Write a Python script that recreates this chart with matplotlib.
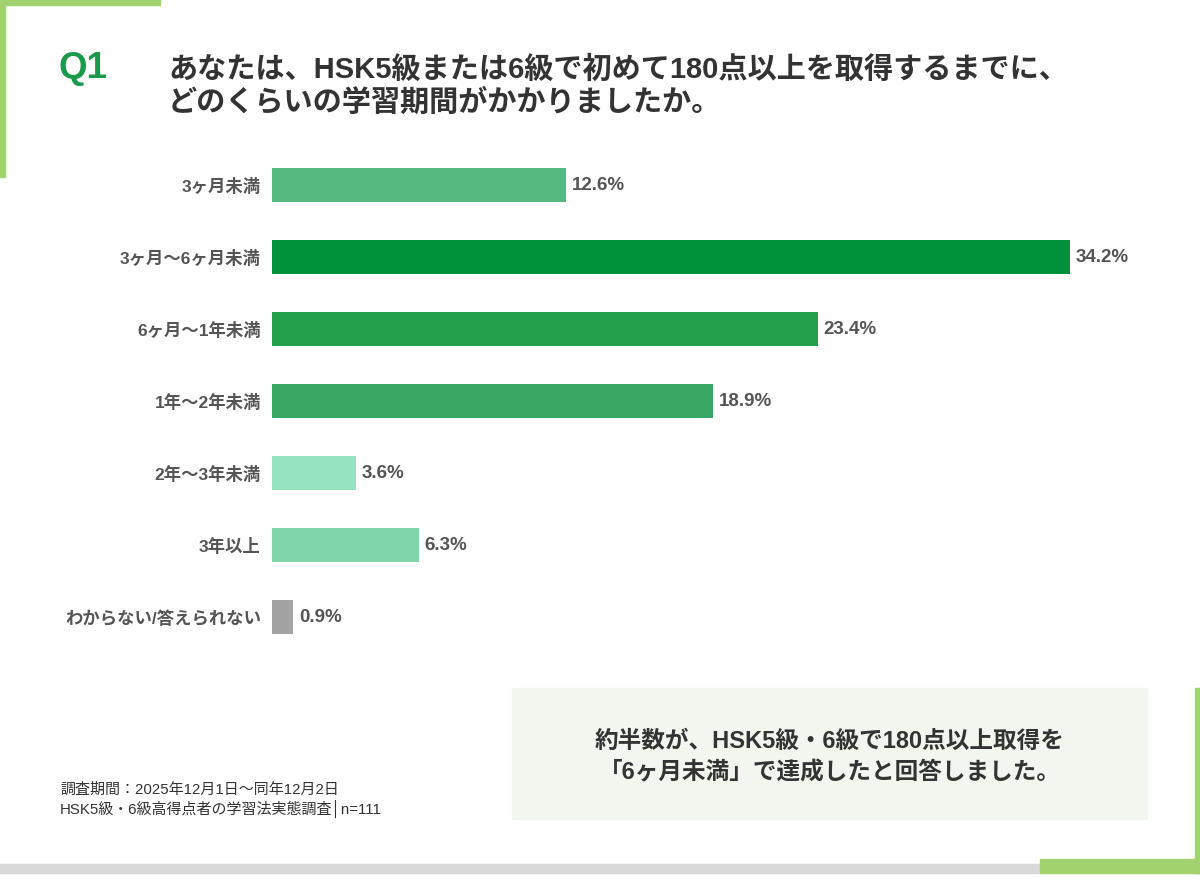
import matplotlib
matplotlib.use("Agg")
import matplotlib.pyplot as plt
from matplotlib.patches import Rectangle

# Latin glyphs in an Arial-like face, Japanese falls back to Noto CJK
plt.rcParams["font.family"] = ["Liberation Sans", "Noto Sans CJK JP", "DejaVu Sans"]

categories = ["3ヶ月未満", "3ヶ月～6ヶ月未満", "6ヶ月～1年未満", "1年～2年未満",
              "2年～3年未満", "3年以上", "わからない/答えられない"]
values = [12.6, 34.2, 23.4, 18.9, 3.6, 6.3, 0.9]
bar_colors = ["#55b980", "#00923a", "#23a04c", "#3aa864", "#96e3c1", "#80d5a9", "#a3a3a3"]

W, H = 1200, 884
fig = plt.figure(figsize=(W / 100, H / 100), dpi=100)
fig.patch.set_facecolor("white")


def px(x, y, w, h):
    # pixel box (top-left origin) -> figure fraction
    return [x / W, 1 - (y + h) / H, w / W, h / H]


# frame decorations
deco = fig.add_axes([0, 0, 1, 1])
deco.set_xlim(0, W)
deco.set_ylim(H, 0)
deco.axis("off")
green_line = "#a0d36e"
deco.add_patch(Rectangle((0, 0), 160, 5, color=green_line))
deco.add_patch(Rectangle((0, 0), 5, 177, color=green_line))
deco.add_patch(Rectangle((0, 864), 1200, 9, color="#d9d9d9"))
deco.add_patch(Rectangle((1040, 859), 160, 14, color=green_line))
deco.add_patch(Rectangle((1195, 688), 5, 185, color=green_line))
deco.add_patch(Rectangle((512, 688), 635, 131, color="#f1f7ee"))

deco.text(59, 68, "Q1", fontsize=26.5, fontweight="bold", color="#1a9a4a",
          va="center", ha="left")
deco.text(168, 70, "あなたは、HSK5級または6級で初めて180点以上を取得するまでに、",
          fontsize=21, fontweight="bold", color="#333333", va="center", ha="left")
deco.text(168, 103, "どのくらいの学習期間がかかりましたか。",
          fontsize=21, fontweight="bold", color="#333333", va="center", ha="left")

deco.text(830, 741, "約半数が、HSK5級・6級で180点以上取得を",
          fontsize=17, fontweight="bold", color="#333333", va="center", ha="center")
deco.text(830, 773, "「6ヶ月未満」で達成したと回答しました。",
          fontsize=17, fontweight="bold", color="#333333", va="center", ha="center")

deco.text(60, 790, "調査期間：2025年12月1日～同年12月2日",
          fontsize=10.8, color="#333333", va="center", ha="left")
deco.text(60, 809, "HSK5級・6級高得点者の学習法実態調査│n=111",
          fontsize=10.8, color="#333333", va="center", ha="left")

# bar chart
ax = fig.add_axes(px(272, 149, 933, 504))
ypos = list(range(len(categories)))
ax.barh(ypos, values, height=0.47, color=bar_colors)
ax.set_xlim(0, 40)
ax.set_ylim(len(categories) - 0.5, -0.5)
ax.set_yticks(ypos)
ax.set_yticklabels(categories, fontsize=12.5, fontweight="bold", color="#555555")
ax.tick_params(axis="y", length=0, pad=8)
ax.set_xticks([])
for s in ax.spines.values():
    s.set_visible(False)
ax.patch.set_alpha(0)
for y, v in zip(ypos, values):
    ax.text(v + 0.25, y, f"{v:.1f}%", fontsize=13.5, fontweight="bold",
            color="#555555", va="center", ha="left")

fig.savefig("out.png", dpi=100)
